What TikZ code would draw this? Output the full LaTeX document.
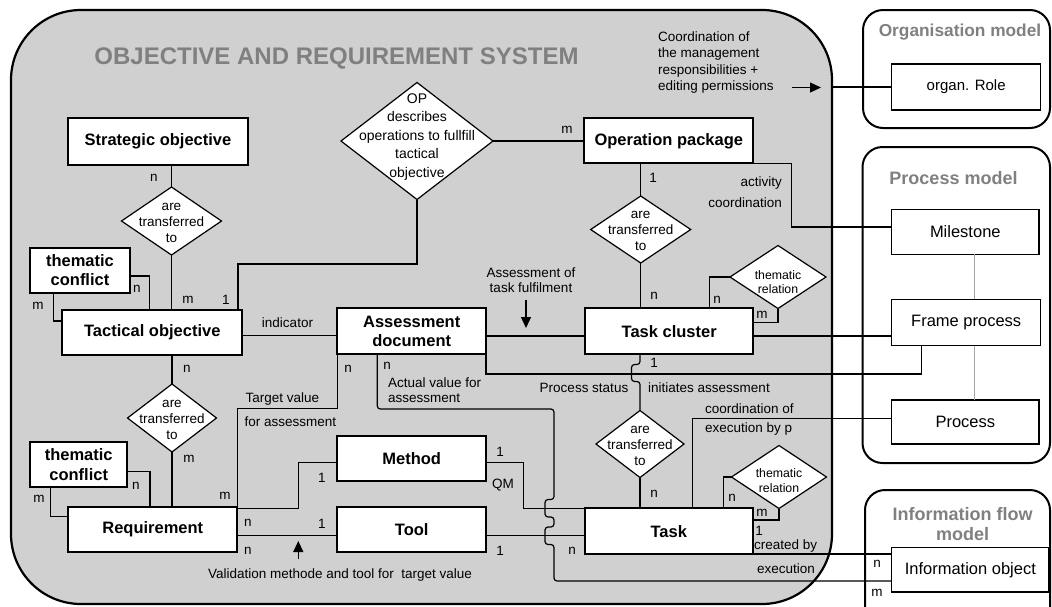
\documentclass[tikz,border=0pt]{standalone}
\usepackage{fontspec}
\setmainfont{Liberation Sans}
\usetikzlibrary{shapes.geometric,arrows.meta,calc}
\definecolor{panelgray}{RGB}{208,208,208}
\definecolor{titlegray}{RGB}{128,128,128}
\definecolor{linkgray}{RGB}{165,165,165}

\begin{document}
\begin{tikzpicture}[x=1pt,y=-1pt,
  ent/.style={draw,line width=2pt,fill=white,inner sep=0pt,outer sep=0pt,align=center,font=\fontsize{16.5}{19.5}\selectfont\bfseries},
  rbox/.style={draw,line width=1.4pt,fill=white,inner sep=0pt,outer sep=0pt,align=center,font=\fontsize{16.5}{19.5}\selectfont},
  rel/.style={diamond,draw,line width=1.2pt,fill=white,inner sep=0pt,outer sep=0pt},
  rtxt/.style={align=center,inner sep=0pt,font=\fontsize{13.5}{16}\selectfont},
  lbl/.style={inner sep=0pt,font=\fontsize{13.5}{16}\selectfont},
  con/.style={line width=1.2pt},
  arr/.style={line width=1.3pt,-{Triangle[length=11pt,width=10pt]}},
  panel/.style={draw,line width=2pt,rounded corners=20pt,inner sep=0pt,outer sep=0pt},
  ptitle/.style={inner sep=0pt,text=titlegray,font=\fontsize{18}{20}\selectfont\bfseries},
  gline/.style={line width=1pt,draw=linkgray}
]
\clip (0,0) rectangle (1052,606);

% ---------- containers ----------
\node[draw,line width=2.2pt,fill=panelgray,rounded corners=70pt,minimum width=821pt,minimum height=594pt,inner sep=0pt,outer sep=0pt] (sys) at (421.5,307) {};
\node[inner sep=0pt,anchor=base,text=titlegray,font=\fontsize{24}{28}\selectfont\bfseries] (systitle) at (336.5,64) {OBJECTIVE AND REQUIREMENT SYSTEM};

\node[panel,minimum width=187pt,minimum height=118pt] (orgm) at (956.5,69) {};
\node[panel,minimum width=187.5pt,minimum height=316pt] (procm) at (956.25,305) {};
\node[panel,minimum width=185pt,minimum height=140pt] (infm) at (957.5,560) {};
\node[ptitle,anchor=base,font=\fontsize{17.3}{20}\selectfont\bfseries] (orgt) at (960,36.7) {Organisation model};
\node[ptitle,anchor=base] (proct) at (953.5,184.3) {Process model};
\node[ptitle,align=center] (inft) at (962.7,524) {Information flow\\model};

% ---------- entities ----------
\node[ent,minimum width=180.6pt,minimum height=46.7pt] (strat) at (158,141.7) {Strategic objective};
\node[ent,minimum width=180pt,minimum height=45pt] (tac) at (152.3,332.5) {Tactical objective};
\node[ent,minimum width=100pt,minimum height=45pt] (tc1) at (80,270.2) {thematic\\conflict};
\node[ent,minimum width=169pt,minimum height=45pt] (req) at (152.8,529.2) {Requirement};
\node[ent,minimum width=97.3pt,minimum height=45.6pt] (tc2) at (78.7,464.5) {thematic\\conflict};
\node[ent,minimum width=148.7pt,minimum height=45.7pt] (asd) at (411.7,331.2) {Assessment\\document};
\node[ent,minimum width=148.7pt,minimum height=45pt] (meth) at (411.7,458.5) {Method};
\node[ent,minimum width=148.7pt,minimum height=45.6pt] (tool) at (411.7,529.5) {Tool};
\node[ent,minimum width=169pt,minimum height=45pt] (opk) at (668.8,140.8) {Operation package};
\node[ent,minimum width=168.3pt,minimum height=46pt] (tclu) at (669.2,331.3) {Task cluster};
\node[ent,minimum width=167.7pt,minimum height=45.7pt] (task) at (668.8,531.2) {Task};

% ---------- relationships ----------
\node[rel,minimum width=100pt,minimum height=68pt] (d1) at (171.5,221) {};
\node[rel,minimum width=100pt,minimum height=67pt] (d2) at (640.7,229.5) {};
\node[rel,minimum width=88pt,minimum height=67pt] (d3) at (640,444) {};
\node[rel,minimum width=89pt,minimum height=68pt] (d4) at (172,418) {};
\node[rel,minimum width=152pt,minimum height=117pt] (dop) at (417,141) {};
\node[rel,minimum width=96pt,minimum height=63pt] (tr1) at (778,277) {};
\node[rel,minimum width=95pt,minimum height=63pt] (tr2) at (779,477) {};

\node[rtxt] (d1t) at (171.5,222.5) {are\\transferred\\to};
\node[rtxt] (d2t) at (640.7,231) {are\\transferred\\to};
\node[rtxt] (d3t) at (640,445.5) {are\\transferred\\to};
\node[rtxt] (d4t) at (172,420) {are\\transferred\\to};
\node[rtxt,font=\fontsize{14}{18.5}\selectfont] (dopt) at (417,137) {OP\\describes\\operations to fullfill\\tactical\\objective};
\node[rtxt,font=\fontsize{12.3}{14.5}\selectfont] (tr1t) at (778,282) {thematic\\relation};
\node[rtxt,font=\fontsize{12.3}{15.5}\selectfont] (tr2t) at (779,480.5) {thematic\\relation};

% ---------- other models ----------
\node[rbox,font=\fontsize{15}{18}\selectfont,minimum width=149pt,minimum height=46pt] (role) at (966.2,87) {organ. Role};
\node[rbox,minimum width=147.3pt,minimum height=45pt] (ms) at (965.3,231.8) {Milestone};
\node[rbox,minimum width=149pt,minimum height=46.4pt] (fp) at (966.2,322.5) {Frame process};
\node[rbox,minimum width=147.3pt,minimum height=44pt] (pr) at (965.3,422) {Process};
\node[rbox,minimum width=157.3pt,minimum height=44.3pt] (io) at (970.35,569.85) {Information object};

\draw[gline] (ms.south -| 974,0) -- (fp.north -| 974,0);
\draw[gline] (fp.south -| 974,0) -- (pr.north -| 974,0);

% ---------- connectors ----------
\draw[con] (strat.south -| d1.north) -- (d1.north);
\draw[con] (d1.south) -- (d1.south |- tac.north);
\draw[con] (tc1.east |- 0,276) -| ([xshift=-3pt]tac.north);
\draw[con] (tc1.south -| 53.3,0) |- (tac.west |- 0,321);
\draw[con] (dop.south) -- (dop.south |- 0,264) -| (tac.north -| 238,0);
\draw[con] (dop.east) -- (dop.east -| opk.west);
\draw[con] (opk.south -| d2.north) -- (d2.north);
\draw[con] (opk.south east) -- (opk.south east -| 791.7,0) |- (ms.west |- 0,227);
\draw[con] (d2.south) -- (d2.south |- tclu.north);
\draw[con] (tr1.west) -| (tclu.north -| 709.3,0);
\draw[con] (tr1.south) |- (tclu.east |- 0,322.3);
\draw[con] (tclu.east |- 0,336) -- (fp.west |- 0,336);
\draw[con] (tac.east |- 0,335.7) -- (asd.west |- 0,335.7);
\draw[con] (asd.east |- 0,336) -- (tclu.west |- 0,336);
\draw[con] (asd.south east) -- (asd.south east |- 0,374) -| (fp.south -| 921.7,0);
\draw[con,rounded corners=3pt] (tclu.south -| d3.north) -- (640,364.5) -- (631.5,364.5) -- (631.5,381.5) -- (640,381.5) -- (d3.north);
\draw[con] (d3.south) -- (d3.south |- task.north);
\draw[con] (task.north -| 692.3,0) |- (pr.west |- 0,418.3);
\draw[con] (tr2.west) -| (task.north -| 723.3,0);
\draw[con] (tr2.south) |- (task.east |- 0,520);
\draw[con] (task.south east) -- (task.south east -| io.west);
\draw[con,rounded corners=3pt] (asd.south -| 377.3,0) |- (554,409) -- (554,499.5) -- (545,499.5) -- (545,517) -- (554,517) -- (554,527) -- (545,527) -- (545,544.5) -- (554,544.5) |- (io.west |- 0,581);
\draw[con] (asd.south west) -- (asd.south west |- 0,408.3) -| (req.north east);
\draw[con] (tac.south -| d4.north) -- (d4.north);
\draw[con] (d4.south) -- (d4.south |- req.north);
\draw[con] (tc2.east |- 0,471.7) -| (req.north -| 150,0);
\draw[con] (tc2.south -| 50.7,0) |- (req.west |- 0,516.7);
\draw[con] (req.east |- 0,508.3) -| (298.3,462.7) -- (meth.west |- 0,462.7);
\draw[con] (req.east |- 0,535.7) -- (tool.west |- 0,535.7);
\draw[con] (meth.east |- 0,462.7) -| (523.3,508.3) -- (task.west |- 0,508.3);
\draw[con] (tool.east |- 0,535.7) -- (task.west |- 0,535.7);
\draw[con] (sys.east |- role.west) -- (role.west);

% ---------- annotation arrows ----------
\coordinate (a1s) at (792,87.5);
\coordinate (a1e) at (821,87.5);
\coordinate (a2s) at (526,300);
\coordinate (a2e) at (526,328);
\coordinate (a3s) at (298.3,559);
\coordinate (a3e) at (298.3,541);
\draw[arr] (a1s) -- (a1e);
\draw[arr] (a2s) -- (a2e);
\draw[arr] (a3s) -- (a3e);

% ---------- labels ----------
\node[lbl,anchor=west,align=left,font=\fontsize{13.5}{16.4}\selectfont] (l47) at (658,62.5) {Coordination of\\the management\\responsibilities +\\editing permissions};
\node[lbl] (l01) at (154,178) {n};
\node[lbl] (l02) at (188,300) {m};
\node[lbl] (l03) at (137,289) {n};
\node[lbl] (l04) at (38,306) {m};
\node[lbl] (l05) at (226,300) {1};
\node[lbl] (l06) at (567,130) {m};
\node[lbl] (l07) at (653,178) {1};
\node[lbl,anchor=east] (l08) at (782,183) {activity};
\node[lbl,anchor=east] (l09) at (782,203) {coordination};
\node[lbl] (l10) at (654,296) {n};
\node[lbl] (l11) at (717,300) {n};
\node[lbl] (l12) at (762,315) {m};
\node[lbl] (l13) at (287.5,323) {indicator};
\node[lbl,align=center,font=\fontsize{13.5}{14.7}\selectfont] (l14) at (531,280) {Assessment of\\task fulfilment};
\node[lbl] (l15) at (654,363) {1};
\node[lbl] (l16) at (584,388) {Process status};
\node[lbl] (l17) at (709,388) {initiates assessment};
\node[lbl,anchor=west] (l18) at (705,408.5) {coordination of};
\node[lbl,anchor=west] (l19) at (705,429.5) {execution by p};
\node[lbl] (l20) at (387,366) {n};
\node[lbl,anchor=west,align=left,font=\fontsize{13.5}{14.7}\selectfont] (l21) at (388,390) {Actual value for\\assessment};
\node[lbl] (l22) at (348,369) {n};
\node[lbl,anchor=west] (l23) at (245.5,399) {Target value};
\node[lbl,anchor=west] (l24) at (244.5,421.7) {for assessment};
\node[lbl] (l25) at (225,496) {m};
\node[lbl] (l26) at (187,369) {n};
\node[lbl] (l27) at (189,459) {m};
\node[lbl] (l28) at (136,486) {n};
\node[lbl] (l29) at (39,499) {m};
\node[lbl] (l30) at (322,478) {1};
\node[lbl] (l31) at (248,523) {n};
\node[lbl] (l32) at (322,524) {1};
\node[lbl] (l33) at (248,551) {n};
\node[lbl] (l34) at (340,575) {Validation methode and tool for\ \ target value};
\node[lbl] (l35) at (500,452) {1};
\node[lbl] (l36) at (503,485) {QM};
\node[lbl] (l37) at (500,551) {1};
\node[lbl] (l38) at (654,494) {n};
\node[lbl] (l39) at (732,498) {n};
\node[lbl] (l40) at (762,513) {m};
\node[lbl] (l41) at (759,530.5) {1};
\node[lbl,anchor=west] (l42) at (754,546) {created by};
\node[lbl] (l43) at (572,551) {n};
\node[lbl] (l44) at (786,569) {execution};
\node[lbl] (l45) at (877,564) {n};
\node[lbl] (l46) at (877,593) {m};
\end{tikzpicture}
\end{document}
